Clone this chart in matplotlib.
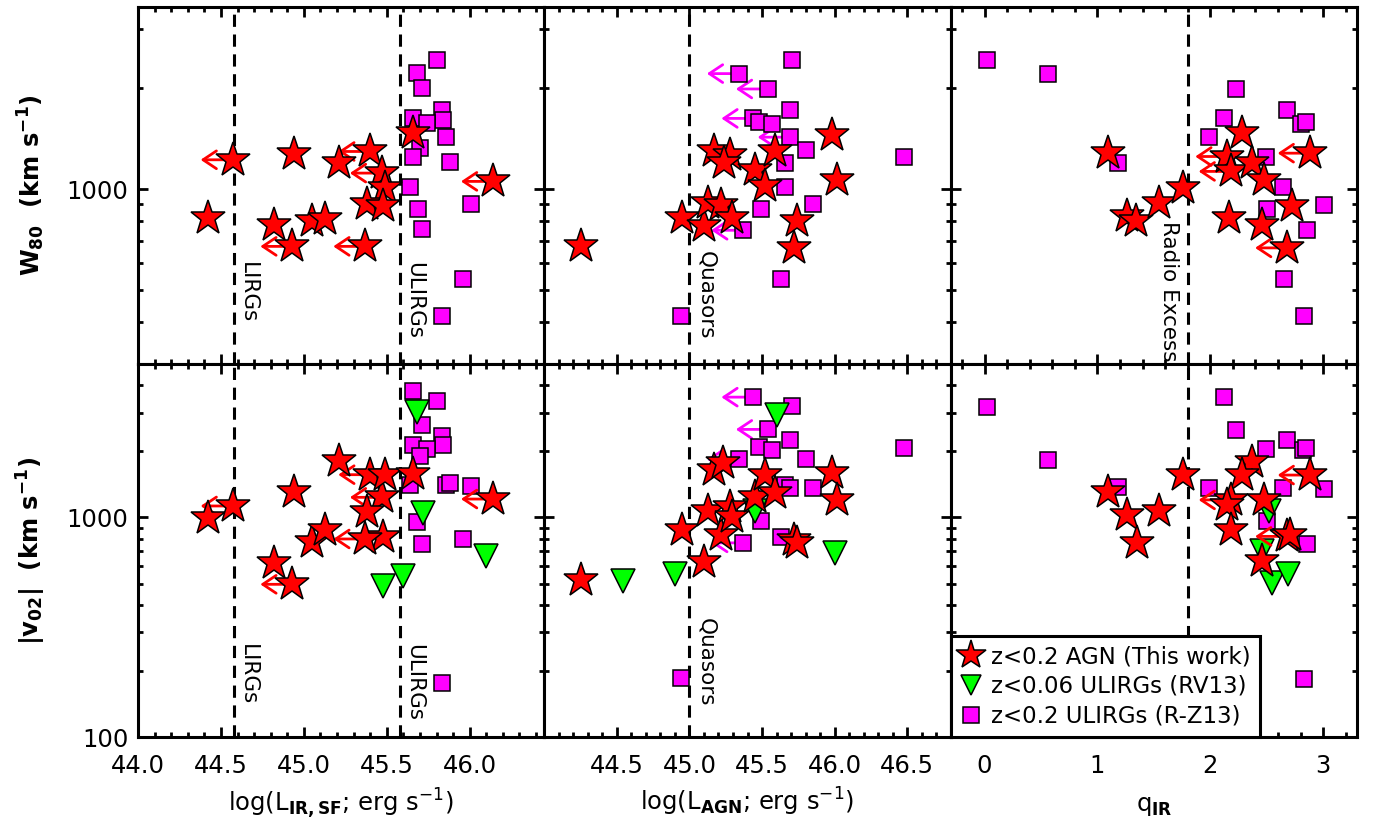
import numpy as np
import matplotlib.pyplot as plt
from matplotlib.lines import Line2D
from matplotlib.ticker import FixedLocator, LogLocator, MultipleLocator, NullFormatter, FuncFormatter
from matplotlib.transforms import offset_copy

# ---------------- data ----------------
# panel 1: log(L_IR,SF)
sf_star_x = [44.42, 44.57, 44.82, 44.93, 44.94, 45.05, 45.13, 45.21,
             45.40, 45.47, 45.49, 45.38, 45.48, 45.37, 45.66, 46.14]
sf_star_w80 = [820, 1223, 783, 674, 1274, 801, 811, 1195,
               1295, 1116, 1007, 904, 888, 674, 1468, 1054]
sf_star_v02 = [993, 1128, 618, 496, 1306, 769, 874, 1811,
               1566, 1235, 1566, 1060, 813, 798, 1581, 1213]
sf_star_lim = [0, 1, 0, 1, 0, 0, 0, 0, 1, 1, 0, 0, 0, 1, 0, 1]

sf_sq_x_top = [45.80, 45.68, 45.71, 45.83, 45.84, 45.66, 45.74, 45.86, 45.70,
               45.66, 45.88, 45.64, 45.69, 46.01, 45.71, 45.96, 45.83]
sf_sq_w80 = [2438, 2218, 2000, 1722, 1611, 1630, 1574, 1435, 1324,
             1251, 1203, 1014, 873, 904, 757, 540, 416]
sf_sq_x_bot = [45.66, 45.80, 45.71, 45.83, 45.84, 45.66, 45.74, 45.70,
               45.64, 45.86, 45.88, 46.01, 45.68, 45.71, 45.96, 45.83]
sf_sq_v02 = [3750, 3402, 2635, 2339, 2134, 2148, 2056, 1913,
             1403, 1403, 1429, 1388, 957, 755, 798, 176]
sf_tri_x = [45.68, 45.72, 45.48, 45.60, 46.10]
sf_tri_v02 = [3013, 1049, 488, 544, 665]

# panel 2: log(L_AGN)
agn_star_x_top = [44.25, 44.95, 45.10, 45.13, 45.22, 45.29, 45.17, 45.28,
                  45.24, 45.45, 45.52, 45.59, 45.98, 46.02, 45.74, 45.72]
agn_star_w80 = [674, 820, 774, 909, 898, 820, 1295, 1265,
                1195, 1142, 1018, 1295, 1452, 1066, 801, 667]
agn_star_x_bot = [44.25, 44.95, 45.10, 45.13, 45.22, 45.28, 45.29, 45.17,
                  45.23, 45.45, 45.52, 45.59, 45.98, 46.02, 45.72, 45.74]
agn_star_v02 = [517, 880, 628, 1072, 835, 1121, 1010, 1644,
                1762, 1245, 1560, 1288, 1588, 1202, 792, 766]

agn_sq_x_top = [45.71, 45.34, 45.54, 45.69, 45.44, 45.48, 45.57, 45.69, 45.80,
                45.66, 46.48, 45.66, 45.85, 45.49, 45.37, 45.63, 44.94]
agn_sq_w80 = [2438, 2213, 1991, 1722, 1626, 1589, 1563, 1429, 1309,
              1200, 1245, 1011, 904, 873, 753, 540, 416]
agn_sq_lim_top = [0, 1, 1, 0, 1, 0, 0, 1, 0, 0, 0, 0, 0, 0, 1, 0, 0]
agn_sq_x_bot = [45.44, 45.71, 45.54, 45.69, 45.48, 45.57, 46.48, 45.80,
                45.34, 45.66, 45.69, 45.85, 45.49, 45.37, 45.63, 44.94]
agn_sq_v02 = [3532, 3213, 2518, 2244, 2095, 2023, 2074, 1842,
              1842, 1405, 1358, 1358, 959, 766, 812, 186]
agn_sq_lim_bot = [1, 0, 1, 0, 0, 0, 0, 0, 1, 0, 0, 0, 0, 1, 0, 0]
agn_tri_x = [44.54, 44.90, 45.60, 45.45, 46.00]
agn_tri_v02 = [513, 551, 2917, 1065, 690]

# panel 3: q_IR
q_star_x_top = [1.09, 1.26, 1.34, 1.55, 1.76, 2.28, 2.15, 2.18,
                2.37, 2.48, 2.88, 2.72, 2.17, 2.46, 2.68]
q_star_w80 = [1280, 829, 801, 909, 1007, 1468, 1251, 1129,
              1195, 1066, 1280, 888, 820, 783, 667]
q_star_lim_top = [0, 0, 0, 0, 0, 0, 1, 1, 0, 0, 1, 0, 0, 0, 1]
q_star_x_bot = [1.09, 1.26, 1.35, 1.55, 1.76, 2.37, 2.28, 2.88,
                2.18, 2.15, 2.48, 2.18, 2.68, 2.71, 2.46]
q_star_v02 = [1312, 1028, 765, 1065, 1560, 1792, 1560, 1560,
              1202, 1141, 1202, 880, 820, 835, 632]
q_star_lim_bot = [0, 0, 0, 0, 0, 0, 0, 1, 1, 0, 0, 0, 1, 0, 0]

q_sq_x_top = [0.02, 0.56, 2.23, 2.68, 2.80, 2.85, 2.12, 1.99,
              2.49, 1.18, 2.64, 3.01, 2.50, 2.86, 2.65, 2.83]
q_sq_w80 = [2438, 2213, 1991, 1722, 1563, 1589, 1626, 1429,
            1251, 1195, 1014, 898, 873, 753, 540, 416]
q_sq_x_bot = [0.02, 0.56, 2.12, 2.23, 2.49, 2.68, 2.82, 2.85,
              1.18, 1.99, 2.64, 3.01, 2.50, 2.86, 2.83]
q_sq_v02 = [3199, 1824, 3532, 2494, 2060, 2245, 2024, 2074,
            1381, 1358, 1358, 1349, 959, 757, 184]
q_tri_x = [2.52, 2.46, 2.55, 2.69]
q_tri_v02 = [1065, 702, 505, 551]

# axes ranges, ticks and reference lines
xlims = [(44.0, 46.45), (44.0, 46.8), (-0.3, 3.3)]
xticks = [[44.0, 44.5, 45.0, 45.5, 46.0],
          [44.5, 45.0, 45.5, 46.0, 46.5],
          [0, 1, 2, 3]]
xminor = [0.1, 0.1, 0.2]
ylims = [(300, 3500), (100, 5000)]
xlabels = [r'log(L$_{\mathbf{IR,SF}}$; erg s$^{-1}$)',
           r'log(L$_{\mathbf{AGN}}$; erg s$^{-1}$)',
           r'q$_{\mathbf{IR}}$']
ylabels = [r'$\mathbf{W_{80}}$  (km s$^{\mathbf{-1}}$)',
           r'|v$_{\mathbf{02}}$|  (km s$^{\mathbf{-1}}$)']

ref_lines = [[44.58, 45.58], [45.0], [1.8]]
ref_text = [['LIRGs', 'ULIRGs'], ['Quasors'], ['Radio Excess']]
ref_text_top = [[604, 264], [652, 350], [801, None]]   # W80 row, v02 row

legend_labels = ['z<0.2 AGN (This work)', 'z<0.06 ULIRGs (RV13)', 'z<0.2 ULIRGs (R-Z13)']

RED, GREEN, MAGENTA = '#ff0000', '#00ff00', '#ff00ff'
STAR = dict(marker='*', ms=26, mfc=RED, mec='black', mew=1.1, ls='none', zorder=6)
TRI = dict(marker='v', ms=17, mfc=GREEN, mec='black', mew=1.1, ls='none', zorder=5)
SQ = dict(marker='s', ms=11, mfc=MAGENTA, mec='black', mew=1.1, ls='none', zorder=4)

plt.rcParams['font.family'] = 'DejaVu Sans'
plt.rcParams['mathtext.fontset'] = 'dejavusans'

fig = plt.figure(figsize=(13.84, 8.30), dpi=100)
W, H = 1384.0, 830.0
left_px, right_px = 138, 1357
row_px = [(7, 364), (364, 737)]
col_w = (right_px - left_px) / 3.0


def upper_limit_arrows(ax, x, y, lim, color, z):
    # leftward arrows of fixed screen length
    shifted = offset_copy(ax.transData, fig=fig, x=-23, y=0, units='points')
    for xi, yi, li in zip(x, y, lim):
        if not li:
            continue
        ax.annotate('', xy=(xi, yi), xycoords=shifted,
                    xytext=(xi, yi), textcoords='data',
                    arrowprops=dict(arrowstyle='->,head_length=0.6,head_width=0.4',
                                    color=color, lw=2.0, shrinkA=0, shrinkB=0,
                                    mutation_scale=16),
                    zorder=z)


panels = {
    (0, 0): dict(star=(sf_star_x, sf_star_w80, sf_star_lim),
                 sq=(sf_sq_x_top, sf_sq_w80, None)),
    (1, 0): dict(star=(sf_star_x, sf_star_v02, sf_star_lim),
                 sq=(sf_sq_x_bot, sf_sq_v02, None),
                 tri=(sf_tri_x, sf_tri_v02)),
    (0, 1): dict(star=(agn_star_x_top, agn_star_w80, None),
                 sq=(agn_sq_x_top, agn_sq_w80, agn_sq_lim_top)),
    (1, 1): dict(star=(agn_star_x_bot, agn_star_v02, None),
                 sq=(agn_sq_x_bot, agn_sq_v02, agn_sq_lim_bot),
                 tri=(agn_tri_x, agn_tri_v02)),
    (0, 2): dict(star=(q_star_x_top, q_star_w80, q_star_lim_top),
                 sq=(q_sq_x_top, q_sq_w80, None)),
    (1, 2): dict(star=(q_star_x_bot, q_star_v02, q_star_lim_bot),
                 sq=(q_sq_x_bot, q_sq_v02, None),
                 tri=(q_tri_x, q_tri_v02)),
}

for (r, c), p in panels.items():
    top_px, bot_px = row_px[r]
    ax = fig.add_axes([(left_px + c * col_w) / W, 1 - bot_px / H,
                       col_w / W, (bot_px - top_px) / H])
    ax.set_yscale('log')
    ax.set_xlim(*xlims[c])
    ax.set_ylim(*ylims[r])

    # reference lines and their vertical labels
    for k, xv in enumerate(ref_lines[c]):
        ax.axvline(xv, color='black', lw=2.2, ls=(0, (4, 2.5)), zorder=1)
        ytop = ref_text_top[c][r] if len(ref_text_top[c]) > r else None
        if ytop is None:
            continue
        if c == 2:
            ax.annotate(ref_text[c][k], xy=(xv, ytop), xytext=(-6, 0),
                        textcoords='offset points', rotation=270,
                        ha='right', va='top', fontsize=15.5)
        else:
            ax.annotate(ref_text[c][k], xy=(xv, ytop), xytext=(3 if c == 0 else 5, 0),
                        textcoords='offset points', rotation=270,
                        ha='left', va='top', fontsize=15.5)

    sx, sy, slim = p['sq']
    ax.plot(sx, sy, **SQ)
    if slim is not None:
        upper_limit_arrows(ax, sx, sy, slim, MAGENTA, 3.5)
    if 'tri' in p:
        ax.plot(p['tri'][0], p['tri'][1], **TRI)
    tx, ty, tlim = p['star']
    if tlim is not None:
        upper_limit_arrows(ax, tx, ty, tlim, RED, 5.5)
    ax.plot(tx, ty, **STAR)

    # ticks
    ax.xaxis.set_major_locator(FixedLocator(xticks[c]))
    ax.xaxis.set_minor_locator(MultipleLocator(xminor[c]))
    ax.yaxis.set_major_locator(LogLocator(base=10))
    ax.yaxis.set_minor_locator(LogLocator(base=10, subs=np.arange(2, 10)))
    ax.yaxis.set_major_formatter(FuncFormatter(lambda v, pos: f'{v:g}'))
    ax.yaxis.set_minor_formatter(NullFormatter())
    if c == 2:
        ax.xaxis.set_major_formatter(FuncFormatter(lambda v, pos: f'{v:g}'))
    else:
        ax.xaxis.set_major_formatter(FuncFormatter(lambda v, pos: f'{v:.1f}'))
    ax.tick_params(which='both', direction='in', top=True, right=True,
                   width=2.0, labelsize=17.5)
    ax.tick_params(which='major', length=7)
    ax.tick_params(which='minor', length=3.5)
    ax.tick_params(axis='x', pad=12)
    ax.tick_params(axis='y', pad=7)
    ax.tick_params(labelbottom=(r == 1), labelleft=(c == 0))
    for sp in ax.spines.values():
        sp.set_linewidth(2.2)
        sp.set_zorder(10)

    if r == 1:
        fig.text((left_px + (c + 0.5) * col_w) / W, 1 - 811 / H, xlabels[c],
                 ha='center', va='baseline', fontsize=17.5)
    if c == 0:
        fig.text(31 / W, 1 - (top_px + bot_px) / 2 / H, ylabels[r],
                 ha='center', va='center', rotation=90, fontsize=17.5,
                 fontweight='bold')

    if (r, c) == (1, 2):
        handles = [Line2D([], [], marker='*', ms=22, mfc=RED, mec='black', mew=1.1, ls='none'),
                   Line2D([], [], marker='v', ms=15, mfc=GREEN, mec='black', mew=1.1, ls='none'),
                   Line2D([], [], marker='s', ms=11, mfc=MAGENTA, mec='black', mew=1.1, ls='none')]
        leg = ax.legend(handles, legend_labels, loc='lower left', bbox_to_anchor=(0, 0),
                        borderaxespad=0, fontsize=16.5, handlelength=1.0,
                        handletextpad=0.35, labelspacing=0.3, borderpad=0.4,
                        fancybox=False, framealpha=1, edgecolor='black')
        leg.get_frame().set_linewidth(2.2)
        leg.set_zorder(20)

fig.savefig('out.png', dpi=100)
